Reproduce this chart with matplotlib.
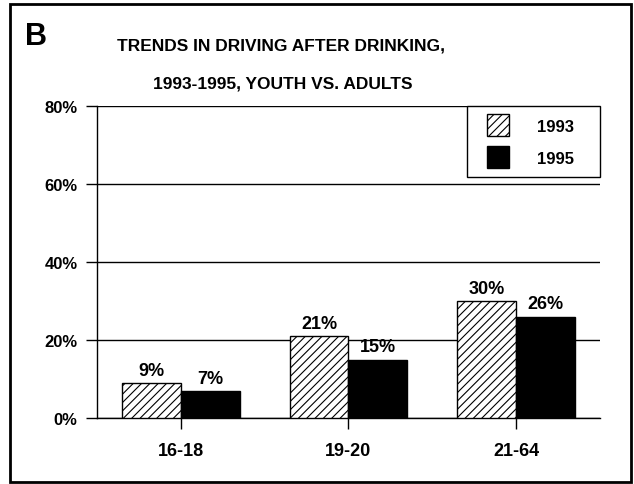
import matplotlib
matplotlib.use("Agg")
from matplotlib import pyplot as plt
from matplotlib.patches import Rectangle, Patch
from matplotlib.legend_handler import HandlerPatch
import numpy as np

# dati
groups = ["16-18", "19-20", "21-64"]
years = ["1993", "1995"]
vals_1993 = [9, 21, 30]
vals_1995 = [7, 15, 26]
yticks = [0, 20, 40, 60, 80]

plt.rcParams['font.family'] = ['Liberation Sans', 'DejaVu Sans']
plt.rcParams['font.weight'] = 'bold'
plt.rcParams['hatch.linewidth'] = 0.8

fig = plt.figure(figsize=(6.34, 4.85), dpi=100)

# cornice esterna
fig.patches.append(Rectangle((10 / 634, 2 / 485), 621 / 634, 478 / 485,
                             transform=fig.transFigure, fill=False,
                             edgecolor='black', linewidth=2))

ax = fig.add_axes([97 / 634, 66 / 485, 503 / 634, 312 / 485])

x = np.arange(len(groups))
w = 0.35
b1 = ax.bar(x - w / 2, vals_1993, w, color='white', edgecolor='black',
            hatch='////', linewidth=1, zorder=3)
b2 = ax.bar(x + w / 2, vals_1995, w, color='black', edgecolor='black',
            linewidth=1, zorder=3)

for bars, vals in [(b1, vals_1993), (b2, vals_1995)]:
    for r, v in zip(bars, vals):
        ax.annotate(f"{v}%", (r.get_x() + r.get_width() / 2, r.get_height()),
                    xytext=(0, 3), textcoords='offset points',
                    ha='center', va='bottom', fontsize=13, fontweight='bold')

ax.set_xlim(-0.5, 2.5)
ax.set_ylim(0, 80)
ax.set_yticks(yticks)
ax.set_yticklabels([f"{t}%" for t in yticks], fontsize=12, fontweight='bold')
ax.set_xticks(x)
ax.set_xticklabels(groups, fontsize=13, fontweight='bold')
ax.tick_params(axis='both', length=8, width=1, direction='out')
ax.tick_params(axis='x', pad=9)
ax.tick_params(axis='y', pad=6)
ax.yaxis.grid(True, color='black', linewidth=1, zorder=0)

for s in ['top', 'right']:
    ax.spines[s].set_visible(False)
ax.spines['left'].set_linewidth(1)
ax.spines['bottom'].set_linewidth(1)


# quadratino spostato a destra dentro lo spazio della maniglia (unità: punti)
def square(legend, orig_handle, xdescent, ydescent, width, height, fontsize):
    side = 22 * 72 / 100
    return Rectangle((-xdescent + width - side - 3, -ydescent + height - side),
                     side, side)


handles = [Patch(facecolor='white', edgecolor='black', hatch='////', label=years[0] + "    "),
           Patch(facecolor='black', edgecolor='black', label=years[1] + "    ")]
leg = ax.legend(handles=handles, loc='upper right', bbox_to_anchor=(1.0, 1.0),
                fancybox=False, edgecolor='black', framealpha=1,
                handlelength=2.3, handleheight=1.8, handletextpad=1.45,
                borderpad=0.45, labelspacing=0.55, borderaxespad=0,
                handler_map={Patch: HandlerPatch(patch_func=square)},
                prop={'size': 12, 'weight': 'bold'})
leg.get_frame().set_linewidth(1)

fig.text(25 / 634, 1 - 37 / 485, "B", fontsize=22, fontweight='bold',
         ha='left', va='center')
fig.text(281 / 634, 1 - 46 / 485, "TRENDS IN DRIVING AFTER DRINKING,",
         fontsize=12.5, fontweight='bold', ha='center', va='center')
fig.text(283 / 634, 1 - 84 / 485, "1993-1995, YOUTH VS. ADULTS",
         fontsize=12.5, fontweight='bold', ha='center', va='center')

fig.savefig("out.png", dpi=100)
